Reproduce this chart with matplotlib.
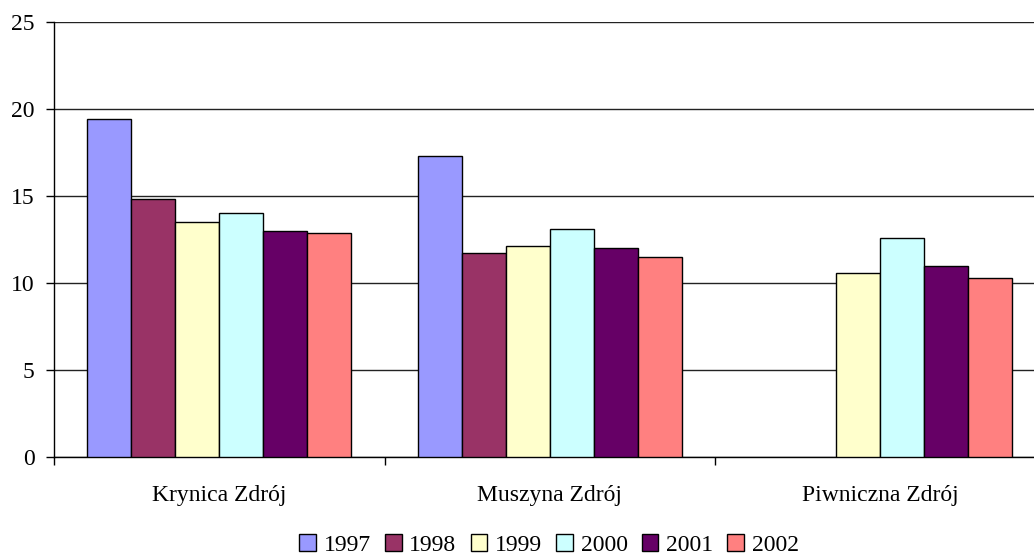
import numpy as np, matplotlib
matplotlib.use("Agg")
import matplotlib.pyplot as plt
from matplotlib.ticker import FixedLocator

plt.rcParams["font.family"] = ["Liberation Serif", "DejaVu Serif"]

towns = ["Krynica Zdrój", "Muszyna Zdrój", "Piwniczna Zdrój"]
years = ["1997", "1998", "1999", "2000", "2001", "2002"]
colors = ["#9999ff", "#993366", "#ffffcc", "#ccffff", "#660066", "#ff8080"]
v1997 = [19.4, 17.3, np.nan]
v1998 = [14.8, 11.7, np.nan]
v1999 = [13.5, 12.1, 10.6]
v2000 = [14.0, 13.1, 12.6]
v2001 = [13.0, 12.0, 11.0]
v2002 = [12.9, 11.5, 10.3]
series = [v1997, v1998, v1999, v2000, v2001, v2002]

fs = 17
fig = plt.figure(figsize=(10.34, 5.56), dpi=100)
ax = fig.add_axes([54/1034, 99/556, 991.5/1034, 435/556])

bw = 1 / 7.5
x = np.arange(len(towns))
for i, (vals, c, yr) in enumerate(zip(series, colors, years)):
    ax.bar(x + 0.1 + i * bw, vals, width=bw, align="edge", color=c,
           edgecolor="black", linewidth=1.0, label=yr, zorder=3)

ax.set_xlim(0, 3)
ax.set_ylim(0, 25)
ax.set_yticks([0, 5, 10, 15, 20, 25])
ax.yaxis.grid(True, color="#222222", linewidth=1.0, zorder=0)
ax.set_axisbelow(True)
ax.xaxis.set_major_locator(FixedLocator([0, 1, 2, 3]))
ax.set_xticklabels([])
ax.xaxis.set_minor_locator(FixedLocator(x + 0.5))
ax.set_xticklabels(towns, minor=True)
ax.tick_params(axis="x", which="minor", length=0, pad=20, labelsize=fs)
ax.tick_params(axis="x", which="major", length=6, width=1, direction="out")
ax.tick_params(axis="y", length=6, width=1, labelsize=fs, pad=8)
for s in ["top", "right"]:
    ax.spines[s].set_visible(False)
for s in ["left", "bottom"]:
    ax.spines[s].set_linewidth(1.0)

fig.legend(loc="center", bbox_to_anchor=(549/1034, 1 - 545/556), ncol=6,
           frameon=False, fontsize=fs, handlelength=0.7, handleheight=0.7,
           handletextpad=0.33, columnspacing=0.6, borderaxespad=0)

plt.savefig("out.png", dpi=100)
